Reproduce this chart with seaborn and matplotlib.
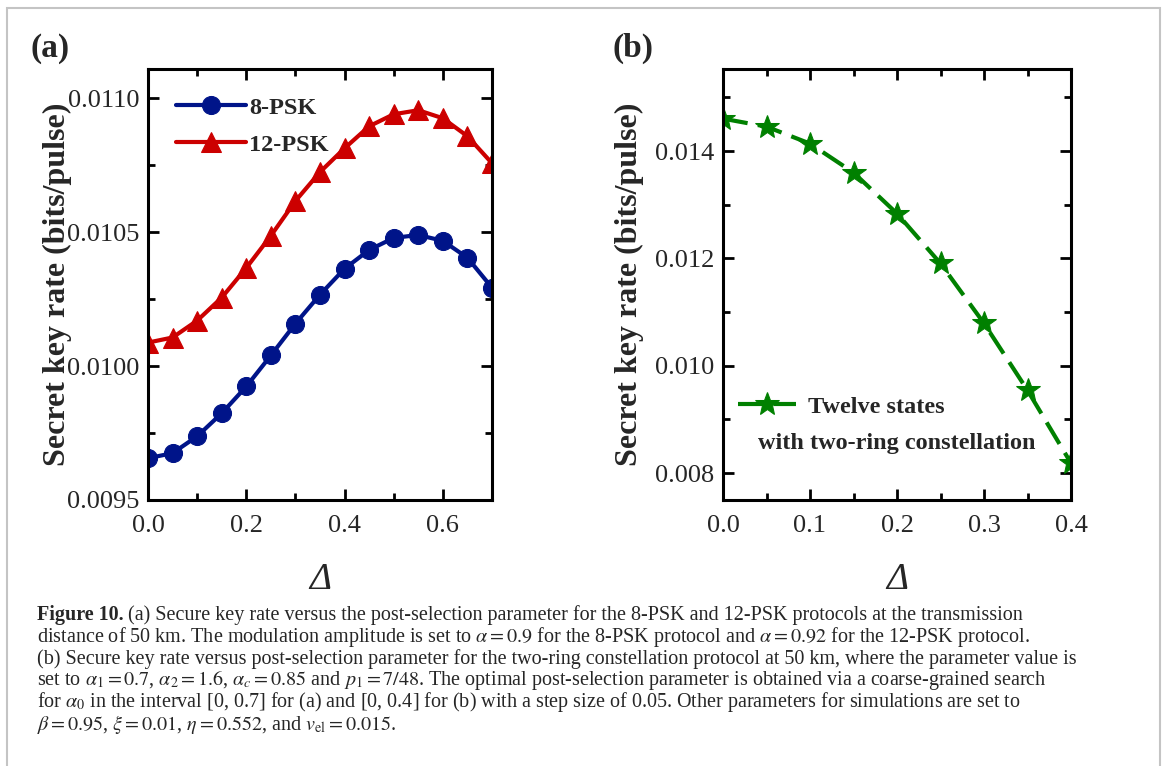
import matplotlib
matplotlib.use("Agg")
import matplotlib.pyplot as plt
import matplotlib.patches as patches
from matplotlib.ticker import MultipleLocator, FormatStrFormatter
import seaborn as sns

# data
delta_a = [0.0, 0.05, 0.1, 0.15, 0.2, 0.25, 0.3, 0.35, 0.4, 0.45, 0.5, 0.55, 0.6, 0.65, 0.7]
rate_8psk = [0.009656, 0.009675, 0.009738, 0.009824, 0.009924, 0.01004, 0.010159, 0.010267,
             0.010364, 0.010434, 0.010479, 0.01049, 0.010468, 0.010405, 0.010293]
rate_12psk = [0.010088, 0.010107, 0.01017, 0.010256, 0.010367, 0.010487, 0.010617, 0.010725,
              0.010814, 0.010896, 0.010941, 0.010956, 0.010926, 0.010859, 0.010758]

delta_b = [0.0, 0.05, 0.1, 0.15, 0.2, 0.25, 0.3, 0.35, 0.4]
rate_two_ring = [0.014605, 0.014456, 0.01414, 0.0136, 0.012837, 0.011907, 0.010791, 0.009544, 0.008186]

caption_lines = [
    "(a) Secure key rate versus the post-selection parameter for the 8-PSK and 12-PSK protocols at the transmission",
    r"distance of 50 km. The modulation amplitude is set to $\alpha = 0.9$ for the 8-PSK protocol and $\alpha = 0.92$ for the 12-PSK protocol.",
    "(b) Secure key rate versus post-selection parameter for the two-ring constellation protocol at 50 km, where the parameter value is",
    r"set to $\alpha_1 = 0.7$, $\alpha_2 = 1.6$, $\alpha_c = 0.85$ and $p_1 = 7/48$. The optimal post-selection parameter is obtained via a coarse-grained search",
    r"for $\alpha_0$ in the interval [0, 0.7] for (a) and [0, 0.4] for (b) with a step size of 0.05. Other parameters for simulations are set to",
    r"$\beta = 0.95$, $\xi = 0.01$, $\eta = 0.552$, and $v_{\mathrm{el}} = 0.015$.",
]

BLUE = "#001489"
RED = "#cc0000"
GREEN = "#008000"

sns.set_style("ticks")
plt.rcParams["font.family"] = ["Liberation Serif", "DejaVu Serif"]
plt.rcParams["mathtext.fontset"] = "stix"


def style_axes(ax, xmaj, xmin, ymaj, ymin, fmt):
    for side in ax.spines.values():
        side.set_linewidth(2.2)
        side.set_color("black")
    ax.xaxis.set_major_locator(MultipleLocator(xmaj))
    ax.xaxis.set_minor_locator(MultipleLocator(xmin))
    ax.yaxis.set_major_locator(MultipleLocator(ymaj))
    ax.yaxis.set_minor_locator(MultipleLocator(ymin))
    ax.xaxis.set_major_formatter(FormatStrFormatter("%.1f"))
    ax.yaxis.set_major_formatter(FormatStrFormatter(fmt))
    ax.tick_params(which="both", direction="in", top=True, right=True, width=2, labelsize=19,
                   color="black")
    ax.tick_params(which="major", length=8)
    ax.tick_params(which="minor", length=5)
    ax.tick_params(axis="x", which="major", pad=11)
    ax.tick_params(axis="y", which="major", pad=6)


fig = plt.figure(figsize=(11.65, 7.66), dpi=100)
ax_a = fig.add_axes([148 / 1165, 1 - 500 / 766, 344 / 1165, 431 / 766])
ax_b = fig.add_axes([723 / 1165, 1 - 500 / 766, 348 / 1165, 431 / 766])

# panel (a)
sns.lineplot(x=delta_a, y=rate_8psk, ax=ax_a, color=BLUE, lw=3, marker="o", markersize=13,
             markeredgecolor=BLUE, label="8-PSK")
sns.lineplot(x=delta_a, y=rate_12psk, ax=ax_a, color=RED, lw=3, marker="^", markersize=15,
             markeredgecolor=RED, label="12-PSK")
ax_a.set_xlim(0, 0.7)
ax_a.set_ylim(0.0095, 0.01111)
style_axes(ax_a, 0.2, 0.1, 0.0005, 0.00025, "%.4f")
ax_a.legend(loc="upper left", frameon=False, prop={"weight": "bold", "size": 17.5},
            handlelength=2.9, handletextpad=0.1, borderaxespad=0.75, labelspacing=0.6)

# panel (b)
sns.lineplot(x=delta_b, y=rate_two_ring, ax=ax_b, color=GREEN, lw=3, marker="*", markersize=18,
             markeredgecolor=GREEN, dashes=False, linestyle=(0, (6, 2.5)), label="Twelve states")
ax_b.set_xlim(0, 0.4)
ax_b.set_ylim(0.0075, 0.01553)
style_axes(ax_b, 0.1, 0.05, 0.002, 0.001, "%.3f")
ax_b.legend(loc="center left", bbox_to_anchor=(-0.02, 0.216), frameon=False,
            prop={"weight": "bold", "size": 17.5}, handlelength=2.4, handletextpad=0.5)
ax_b.text(0.5, 0.132, "with two-ring constellation", transform=ax_b.transAxes, ha="center",
          va="center", fontsize=17.5, fontweight="bold")

for ax in (ax_a, ax_b):
    ax.set_ylabel("Secret key rate (bits/pulse)", fontsize=23, fontweight="bold")
    ax.set_xlabel("Δ", fontsize=27, fontstyle="italic")
ax_a.yaxis.set_label_coords(-0.22, 0.5)
ax_b.yaxis.set_label_coords(-0.228, 0.5)
ax_a.xaxis.set_label_coords(0.5, -0.145)
ax_b.xaxis.set_label_coords(0.5, -0.145)

fig.text(30 / 1165, 1 - 48 / 766, "(a)", fontsize=24, fontweight="bold", va="center")
fig.text(612 / 1165, 1 - 48 / 766, "(b)", fontsize=24, fontweight="bold", va="center")

# caption
cap_x = 37 / 1165
cap_y0 = 615
step = 21.8
cap_size = 14.5
head = fig.text(cap_x, 1 - cap_y0 / 766, "Figure 10.", fontsize=cap_size, fontweight="bold", va="center")
fig.canvas.draw()
bb = head.get_window_extent(renderer=fig.canvas.get_renderer())
fig.text((bb.x1 + 4) / 1165, 1 - cap_y0 / 766, caption_lines[0], fontsize=cap_size, va="center")
for i, line in enumerate(caption_lines[1:], start=1):
    fig.text(cap_x, 1 - (cap_y0 + i * step) / 766, line, fontsize=cap_size, va="center")

fig.patches.append(patches.Rectangle((7 / 1165, -0.05), 1153 / 1165, 1 - 8 / 766 + 0.05,
                                     transform=fig.transFigure, fill=False,
                                     edgecolor="#c4c4c4", linewidth=1.5))

fig.savefig("out.png", dpi=100)
